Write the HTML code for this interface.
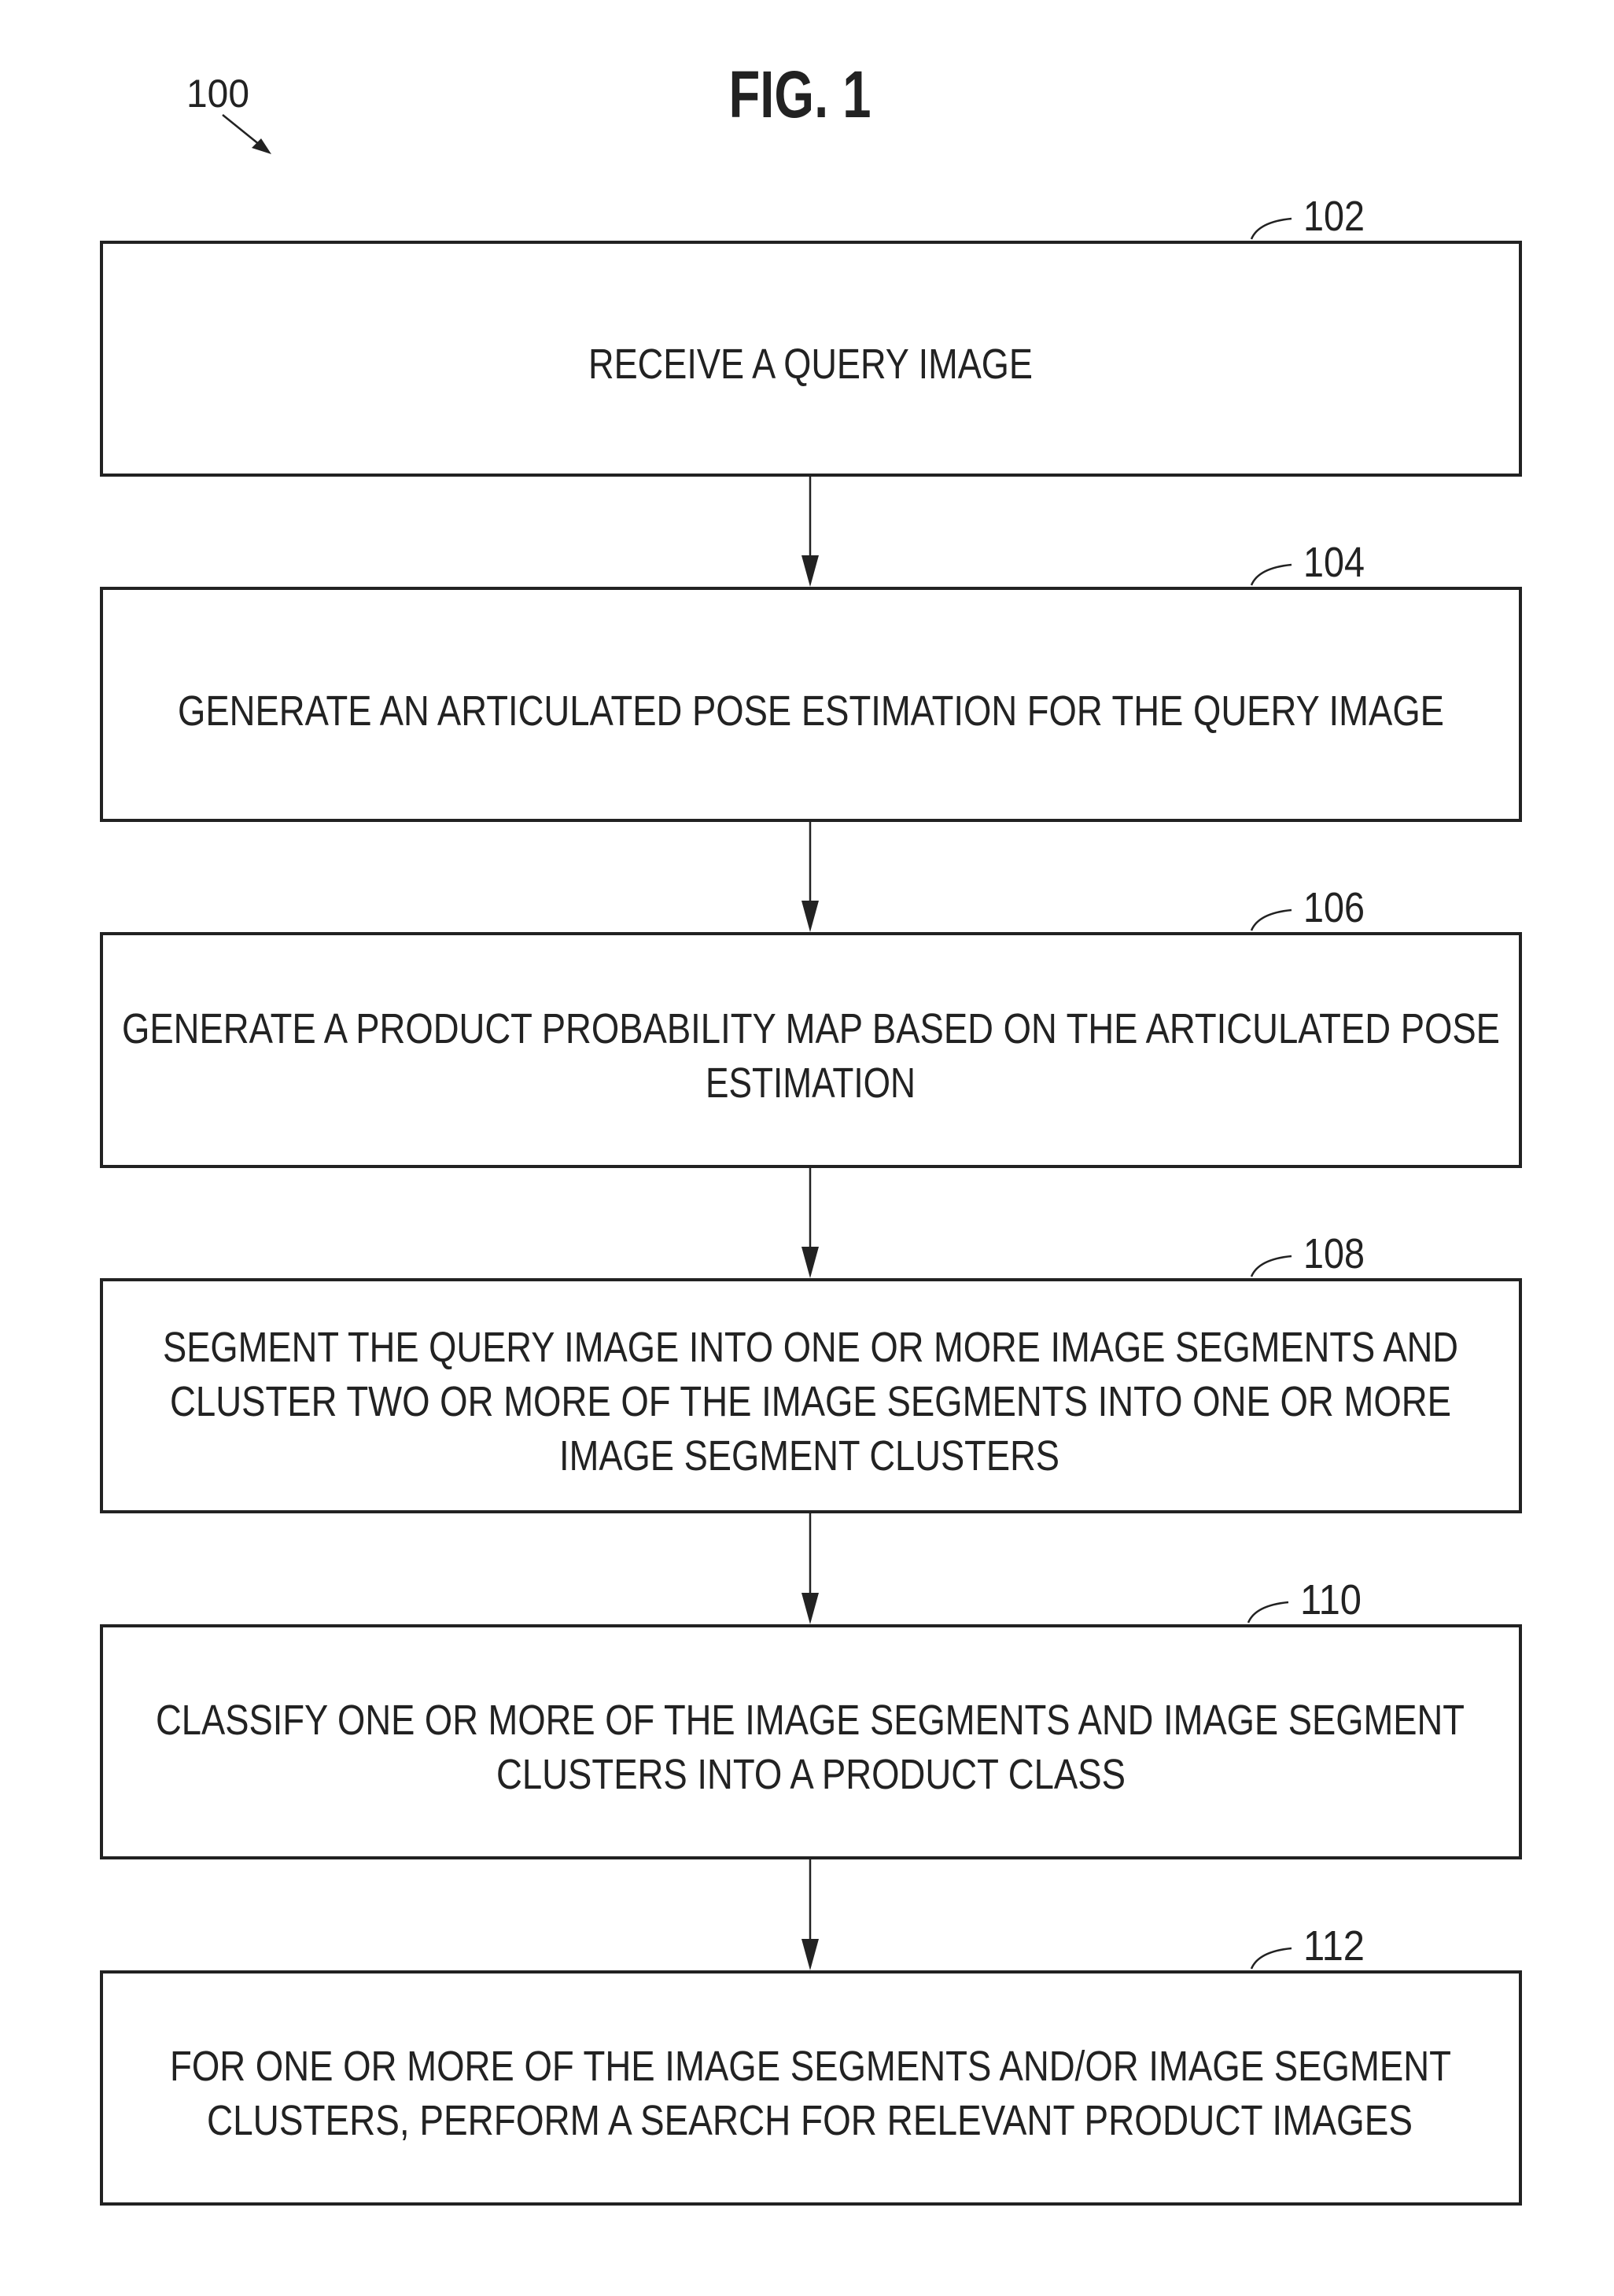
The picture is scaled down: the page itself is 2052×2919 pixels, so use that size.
<!DOCTYPE html>
<html><head><style>html,body{margin:0;padding:0;background:#fff}</style></head>
<body>
<svg width="2052" height="2914" viewBox="0 0 2052 2914" xmlns="http://www.w3.org/2000/svg" font-family="'Liberation Sans Narrow','Liberation Sans',sans-serif" fill="#222">
<text x="1017" y="149" font-size="84" font-weight="bold" text-anchor="middle" textLength="181" lengthAdjust="spacingAndGlyphs">FIG. 1</text>
<text x="237" y="136" font-size="50" textLength="80" lengthAdjust="spacingAndGlyphs">100</text>
<line x1="283" y1="146" x2="340" y2="192" stroke="#222" stroke-width="2.5"/>
<polygon points="345,196 320,188 332,176" fill="#222"/>
<g fill="none" stroke="#222" stroke-width="4">
<rect x="129" y="308" width="1804" height="296"/>
<rect x="129" y="748" width="1804" height="295"/>
<rect x="129" y="1187" width="1804" height="296"/>
<rect x="129" y="1627" width="1804" height="295"/>
<rect x="129" y="2067" width="1804" height="295"/>
<rect x="129" y="2507" width="1804" height="295"/>
</g>
<g stroke="#222" stroke-width="2.5" fill="none">
<line x1="1030" y1="604" x2="1030" y2="710"/>
<line x1="1030" y1="1043" x2="1030" y2="1149"/>
<line x1="1030" y1="1483" x2="1030" y2="1589"/>
<line x1="1030" y1="1922" x2="1030" y2="2029"/>
<line x1="1030" y1="2362" x2="1030" y2="2469"/>
<path d="M1591 304 Q1600 282 1642 278"/>
<path d="M1591 744 Q1600 722 1642 718"/>
<path d="M1591 1183 Q1600 1161 1642 1157"/>
<path d="M1591 1623 Q1600 1601 1642 1597"/>
<path d="M1587 2063 Q1596 2041 1638 2037"/>
<path d="M1591 2503 Q1600 2481 1642 2477"/>
</g>
<g fill="#222">
<polygon points="1019,706 1041,706 1030,746"/>
<polygon points="1019,1145 1041,1145 1030,1185"/>
<polygon points="1019,1585 1041,1585 1030,1625"/>
<polygon points="1019,2025 1041,2025 1030,2065"/>
<polygon points="1019,2465 1041,2465 1030,2505"/>
</g>
<g font-size="54" lengthAdjust="spacingAndGlyphs">
<text x="1657" y="293" textLength="78" lengthAdjust="spacingAndGlyphs">102</text>
<text x="1657" y="733" textLength="78" lengthAdjust="spacingAndGlyphs">104</text>
<text x="1657" y="1172" textLength="78" lengthAdjust="spacingAndGlyphs">106</text>
<text x="1657" y="1612" textLength="78" lengthAdjust="spacingAndGlyphs">108</text>
<text x="1653" y="2052" textLength="78" lengthAdjust="spacingAndGlyphs">110</text>
<text x="1657" y="2492" textLength="78" lengthAdjust="spacingAndGlyphs">112</text>
</g>
<g font-size="54">
<text x="748" y="481" textLength="565" lengthAdjust="spacingAndGlyphs">RECEIVE A QUERY IMAGE</text>
<text x="226" y="922" textLength="1610" lengthAdjust="spacingAndGlyphs">GENERATE AN ARTICULATED POSE ESTIMATION FOR THE QUERY IMAGE</text>
<text x="155" y="1326" textLength="1752" lengthAdjust="spacingAndGlyphs">GENERATE A PRODUCT PROBABILITY MAP BASED ON THE ARTICULATED POSE</text>
<text x="897" y="1395" textLength="267" lengthAdjust="spacingAndGlyphs">ESTIMATION</text>
<text x="207" y="1731" textLength="1647" lengthAdjust="spacingAndGlyphs">SEGMENT THE QUERY IMAGE INTO ONE OR MORE IMAGE SEGMENTS AND</text>
<text x="216" y="1800" textLength="1629" lengthAdjust="spacingAndGlyphs">CLUSTER TWO OR MORE OF THE IMAGE SEGMENTS INTO ONE OR MORE</text>
<text x="711" y="1869" textLength="636" lengthAdjust="spacingAndGlyphs">IMAGE SEGMENT CLUSTERS</text>
<text x="198" y="2205" textLength="1664" lengthAdjust="spacingAndGlyphs">CLASSIFY ONE OR MORE OF THE IMAGE SEGMENTS AND IMAGE SEGMENT</text>
<text x="631" y="2274" textLength="800" lengthAdjust="spacingAndGlyphs">CLUSTERS INTO A PRODUCT CLASS</text>
<text x="216" y="2645" textLength="1629" lengthAdjust="spacingAndGlyphs">FOR ONE OR MORE OF THE IMAGE SEGMENTS AND/OR IMAGE SEGMENT</text>
<text x="263" y="2714" textLength="1533" lengthAdjust="spacingAndGlyphs">CLUSTERS, PERFORM A SEARCH FOR RELEVANT PRODUCT IMAGES</text>
</g>
</svg>
</body></html>
